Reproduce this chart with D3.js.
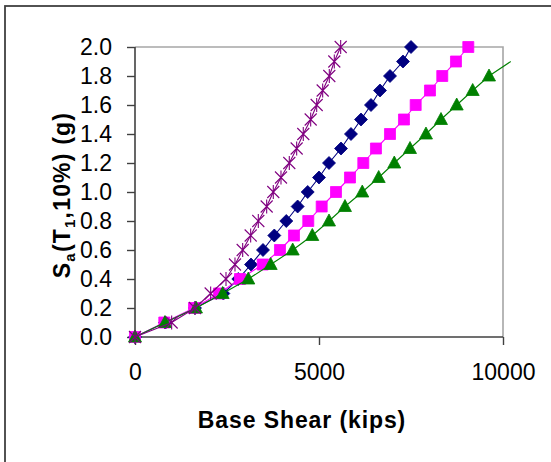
<!DOCTYPE html>
<html>
<head>
<meta charset="utf-8">
<script src="https://cdn.jsdelivr.net/npm/d3@7"></script>
<style>
  html, body { margin: 0; padding: 0; background: #fff; }
  svg { display: block; }
  text { font-family: "Liberation Sans", Arial, sans-serif; fill: #000; }
</style>
</head>
<body>
<svg id="chart" width="551" height="462"></svg>
<script>
// Spectral acceleration levels (g)
const saLevels = [0.0, 0.1, 0.2, 0.3, 0.4, 0.5, 0.6, 0.7, 0.8, 0.9, 1.0,
                  1.1, 1.2, 1.3, 1.4, 1.5, 1.6, 1.7, 1.8, 1.9, 2.0];
// Base shear (kips) for each series
const shearStar    = [0, 996, 1630, 2056, 2473, 2717, 2926, 3143, 3351, 3578, 3758,
                      3967, 4193, 4393, 4573, 4774, 4937, 5100, 5280, 5416, 5589];
const shearDiamond = [0, 815, 1630, 2400, 2807, 3152, 3478, 3785, 4111, 4420, 4693,
                      5000, 5272, 5598, 5869, 6141, 6413, 6657, 6929, 7282, 7500];
const shearSquare  = [0, 796, 1603, 2282, 2853, 3470, 3940, 4320, 4709, 5073, 5462,
                      5842, 6204, 6548, 6929, 7309, 7627, 8016, 8350, 8722, 9057];
const shearTriangle = [0, 815, 1657, 2382, 3079, 3687, 4285, 4818, 5272, 5706, 6176,
                       6622, 7046, 7473, 7907, 8315, 8742, 9176, 9620, 10210];
const xTicks = [0, 5000, 10000];
const yTicks = [0.0, 0.2, 0.4, 0.6, 0.8, 1.0, 1.2, 1.4, 1.6, 1.8, 2.0];

const series = [
  { name: "diamond",  x: shearDiamond,  color: "#000080", shape: "diamond" },
  { name: "square",   x: shearSquare,   color: "#FF00FF", shape: "square" },
  { name: "triangle", x: shearTriangle, color: "#008000", shape: "triangle" },
  { name: "star",     x: shearStar,     color: "#800080", shape: "star" }
];

const svg = d3.select("#chart");
const plot = { left: 135, right: 503, top: 47, bottom: 337 };

const x = d3.scaleLinear().domain([0, 10000]).range([plot.left, plot.right]);
const y = d3.scaleLinear().domain([0, 2]).range([plot.bottom, plot.top]);

// outer chart frame
svg.append("rect").attr("x", 5).attr("y", 6).attr("width", 700).attr("height", 600)
  .attr("fill", "none").attr("stroke", "#404040").attr("stroke-width", 1.8);

// plot area border (top/right gray)
svg.append("path")
  .attr("d", `M${plot.left},${plot.top}H${plot.right}V${plot.bottom}`)
  .attr("fill", "none").attr("stroke", "#a6a6a6").attr("stroke-width", 1.6);

// axes
const yAxis = d3.axisLeft(y).tickValues(yTicks).tickFormat(d3.format(".1f"))
  .tickSize(8).tickPadding(15);
const xAxis = d3.axisBottom(x).tickValues(xTicks).tickFormat(d3.format("d"))
  .tickSize(8).tickPadding(19);

const gy = svg.append("g").attr("transform", `translate(${plot.left},0)`).call(yAxis);
const gx = svg.append("g").attr("transform", `translate(0,${plot.bottom})`).call(xAxis);
[gx, gy].forEach(g => {
  g.select(".domain").attr("stroke", "#404040").attr("stroke-width", 1.6);
  g.selectAll(".tick line").attr("stroke", "#404040").attr("stroke-width", 1.4);
  g.selectAll(".tick text").style("font-size", "23px")
    .style("font-family", "'Liberation Sans', Arial, sans-serif").attr("fill", "#000");
});
gy.select(".domain").attr("d", `M0,${plot.top}V${plot.bottom}`);
gx.select(".domain").attr("d", `M${plot.left},0H${plot.right}`);

const line = d3.line().x(d => x(d[0])).y(d => y(d[1]));

function markerPath(shape) {
  switch (shape) {
    case "diamond": return "M0,-6.5L6.5,0L0,6.5L-6.5,0Z";
    case "square": return "M-5.5,-5.5H5.5V5.5H-5.5Z";
    case "triangle": return "M0,-7L6.5,5L-6.5,5Z";
    case "star": return "M-6,-6L6,6M-6,6L6,-6M0,-7V7";
  }
}

series.forEach(s => {
  const pts = s.x.map((v, i) => [v, saLevels[i]]);
  const g = svg.append("g");
  g.append("path").datum(pts).attr("d", line)
    .attr("fill", "none").attr("stroke", s.color).attr("stroke-width", 1.1);
  g.selectAll("path.m").data(pts.filter(p => p[0] <= 10000)).enter().append("path")
    .attr("class", "m")
    .attr("transform", d => `translate(${x(d[0])},${y(d[1])})`)
    .attr("d", markerPath(s.shape))
    .attr("fill", s.shape === "star" ? "none" : s.color)
    .attr("stroke", s.color)
    .attr("stroke-width", s.shape === "star" ? 1.1 : 0.8);
});

// axis titles
svg.append("text")
  .attr("x", 302).attr("y", 428).attr("text-anchor", "middle")
  .style("font-size", "23px").style("font-weight", "bold").style("letter-spacing", "0.9px")
  .text("Base Shear (kips)");

const yt = svg.append("text")
  .attr("transform", "translate(70,195) rotate(-90)")
  .attr("text-anchor", "middle")
  .style("font-size", "23px").style("font-weight", "bold").style("letter-spacing", "1.2px");
yt.append("tspan").text("S");
yt.append("tspan").attr("dy", 5).style("font-size", "15px").text("a");
yt.append("tspan").attr("dy", -5).text("(T");
yt.append("tspan").attr("dy", 5).style("font-size", "15px").text("1");
yt.append("tspan").attr("dy", -5).text(",10%) (g)");
</script>
</body>
</html>
